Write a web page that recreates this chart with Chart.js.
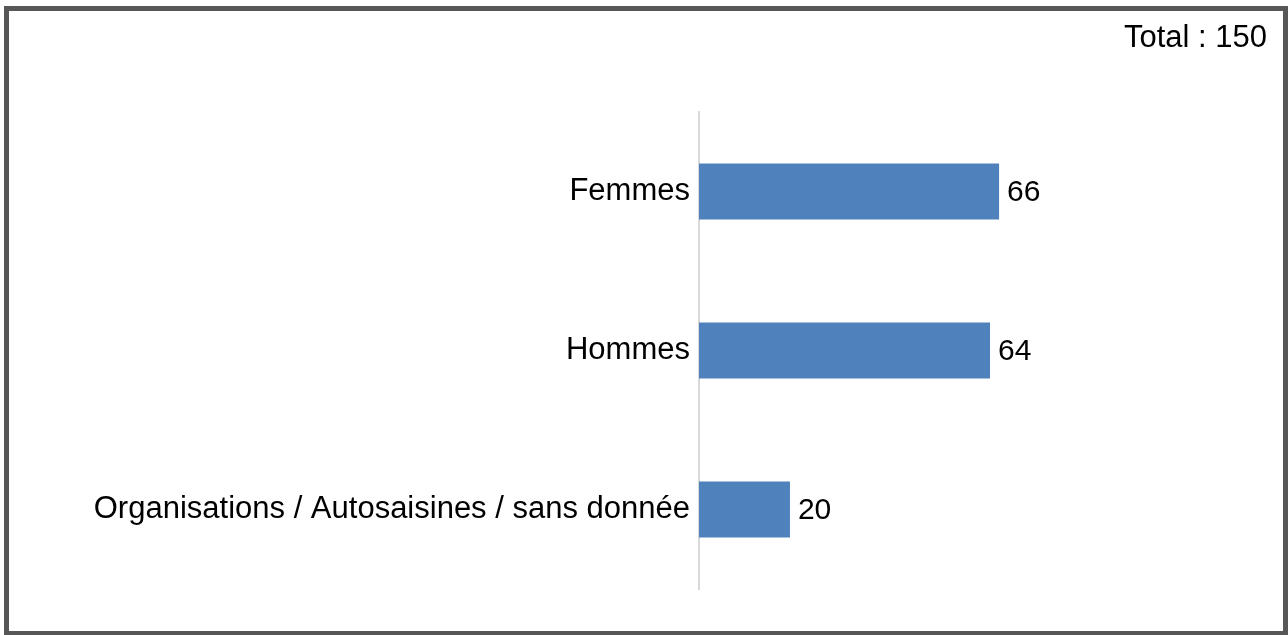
<!DOCTYPE html>
<html>
<head>
<meta charset="utf-8">
<script src="https://cdn.jsdelivr.net/npm/chart.js@4/dist/chart.umd.min.js"></script>
<style>
  html, body { margin: 0; padding: 0; background: #ffffff; overflow: hidden; }
  #wrap { position: relative; width: 1288px; height: 635px; overflow: hidden; }
  canvas { position: absolute; left: 0; top: 0; }
  #frame { position: absolute; left: 4px; top: 6px; width: 1274px; height: 620px;
           border: 5px solid #575757; pointer-events: none; box-sizing: content-box; }
  #total { position: absolute; right: 21px; top: 21px; font-family: "Liberation Sans", Arial, sans-serif;
           font-size: 31px; line-height: 31px; color: #000; white-space: nowrap; }
</style>
</head>
<body>
<div id="wrap">
  <canvas id="c" width="1288" height="635"></canvas>
  <div id="frame"></div>
  <div id="total">Total : 150</div>
</div>
<script>
const categories = ["Femmes", "Hommes", "Organisations / Autosaisines / sans donnée"];
const counts = [66, 64, 20];

const FONT_FAMILY = '"Liberation Sans", Arial, sans-serif';

const valueLabels = {
  id: 'valueLabels',
  afterDatasetsDraw(chart) {
    const ctx = chart.ctx;
    const meta = chart.getDatasetMeta(0);
    ctx.save();
    ctx.font = '30px ' + FONT_FAMILY;
    ctx.fillStyle = '#000';
    ctx.textAlign = 'left';
    ctx.textBaseline = 'middle';
    meta.data.forEach((bar, i) => {
      ctx.fillText(String(counts[i]), bar.x + 8, bar.y + 1);
    });
    ctx.restore();
  }
};

new Chart(document.getElementById('c'), {
  type: 'bar',
  data: {
    labels: categories,
    datasets: [{
      data: counts,
      backgroundColor: '#4f81bd',
      borderWidth: 0,
      categoryPercentage: 1,
      barPercentage: 0.352
    }]
  },
  options: {
    indexAxis: 'y',
    responsive: false,
    animation: false,
    layout: { padding: { left: 0, right: 7, top: 112, bottom: 46 } },
    plugins: { legend: { display: false }, tooltip: { enabled: false } },
    scales: {
      x: { display: false, min: 0, max: 128 },
      y: {
        grid: { display: false, drawTicks: false },
        border: { display: true, color: '#d9d9d9', width: 2 },
        ticks: {
          color: '#000',
          padding: 9,
          font: { family: FONT_FAMILY, size: 31 }
        },
        afterFit(axis) { axis.width = 699; }
      }
    }
  },
  plugins: [valueLabels]
});
</script>
</body>
</html>
